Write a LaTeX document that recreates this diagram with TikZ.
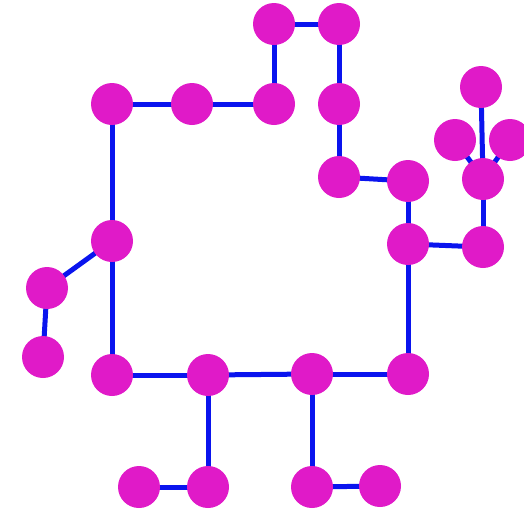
\documentclass[tikz,border=0pt]{standalone}
\usetikzlibrary{backgrounds}
\definecolor{nodemag}{RGB}{224,26,200}
\definecolor{edgeblue}{RGB}{10,20,238}
\begin{document}
\begin{tikzpicture}[x=1pt,y=-1pt,
  vtx/.style={circle,fill=nodemag,draw=none,minimum size=42pt,inner sep=0pt},
  edge/.style={draw=edgeblue,line width=5pt}]
\useasboundingbox (0,0) rectangle (524,512);
\clip (0,0) rectangle (524,512);
\node[vtx] (n1) at (274,24) {};
\node[vtx] (n2) at (339,24) {};
\node[vtx] (n3) at (112,104) {};
\node[vtx] (n4) at (192,104) {};
\node[vtx] (n5) at (274,104) {};
\node[vtx] (n6) at (339,104) {};
\node[vtx] (n7) at (339,177) {};
\node[vtx] (n8) at (408,181) {};
\node[vtx] (n9) at (481,87) {};
\node[vtx] (n10) at (455,140) {};
\node[vtx] (n11) at (510,140) {};
\node[vtx] (n12) at (483,179) {};
\node[vtx] (n13) at (408,244) {};
\node[vtx] (n14) at (483,247) {};
\node[vtx] (n15) at (112,241) {};
\node[vtx] (n16) at (47,288) {};
\node[vtx] (n17) at (43,357) {};
\node[vtx] (n18) at (112,375) {};
\node[vtx] (n19) at (208,375) {};
\node[vtx] (n20) at (312,374) {};
\node[vtx] (n21) at (408,374) {};
\node[vtx] (n22) at (139,487) {};
\node[vtx] (n23) at (208,487) {};
\node[vtx] (n24) at (312,487) {};
\node[vtx] (n25) at (380,486) {};
\begin{pgfonlayer}{background}
\path[edge] (n1.center) -- (n2.center);
\path[edge] (n1.center) -- (n5.center);
\path[edge] (n2.center) -- (n6.center);
\path[edge] (n6.center) -- (n7.center);
\path[edge] (n7.center) -- (n8.center);
\path[edge] (n8.center) -- (n13.center);
\path[edge] (n13.center) -- (n14.center);
\path[edge] (n14.center) -- (n12.center);
\path[edge] (n12.center) -- (n9.center);
\path[edge] (n12.center) -- (n10.center);
\path[edge] (n12.center) -- (n11.center);
\path[edge] (n13.center) -- (n21.center);
\path[edge] (n21.center) -- (n20.center);
\path[edge] (n20.center) -- (n19.center);
\path[edge] (n19.center) -- (n18.center);
\path[edge] (n18.center) -- (n15.center);
\path[edge] (n15.center) -- (n3.center);
\path[edge] (n3.center) -- (n4.center);
\path[edge] (n4.center) -- (n5.center);
\path[edge] (n15.center) -- (n16.center);
\path[edge] (n16.center) -- (n17.center);
\path[edge] (n19.center) -- (n23.center);
\path[edge] (n23.center) -- (n22.center);
\path[edge] (n20.center) -- (n24.center);
\path[edge] (n24.center) -- (n25.center);
\end{pgfonlayer}
\end{tikzpicture}
\end{document}
